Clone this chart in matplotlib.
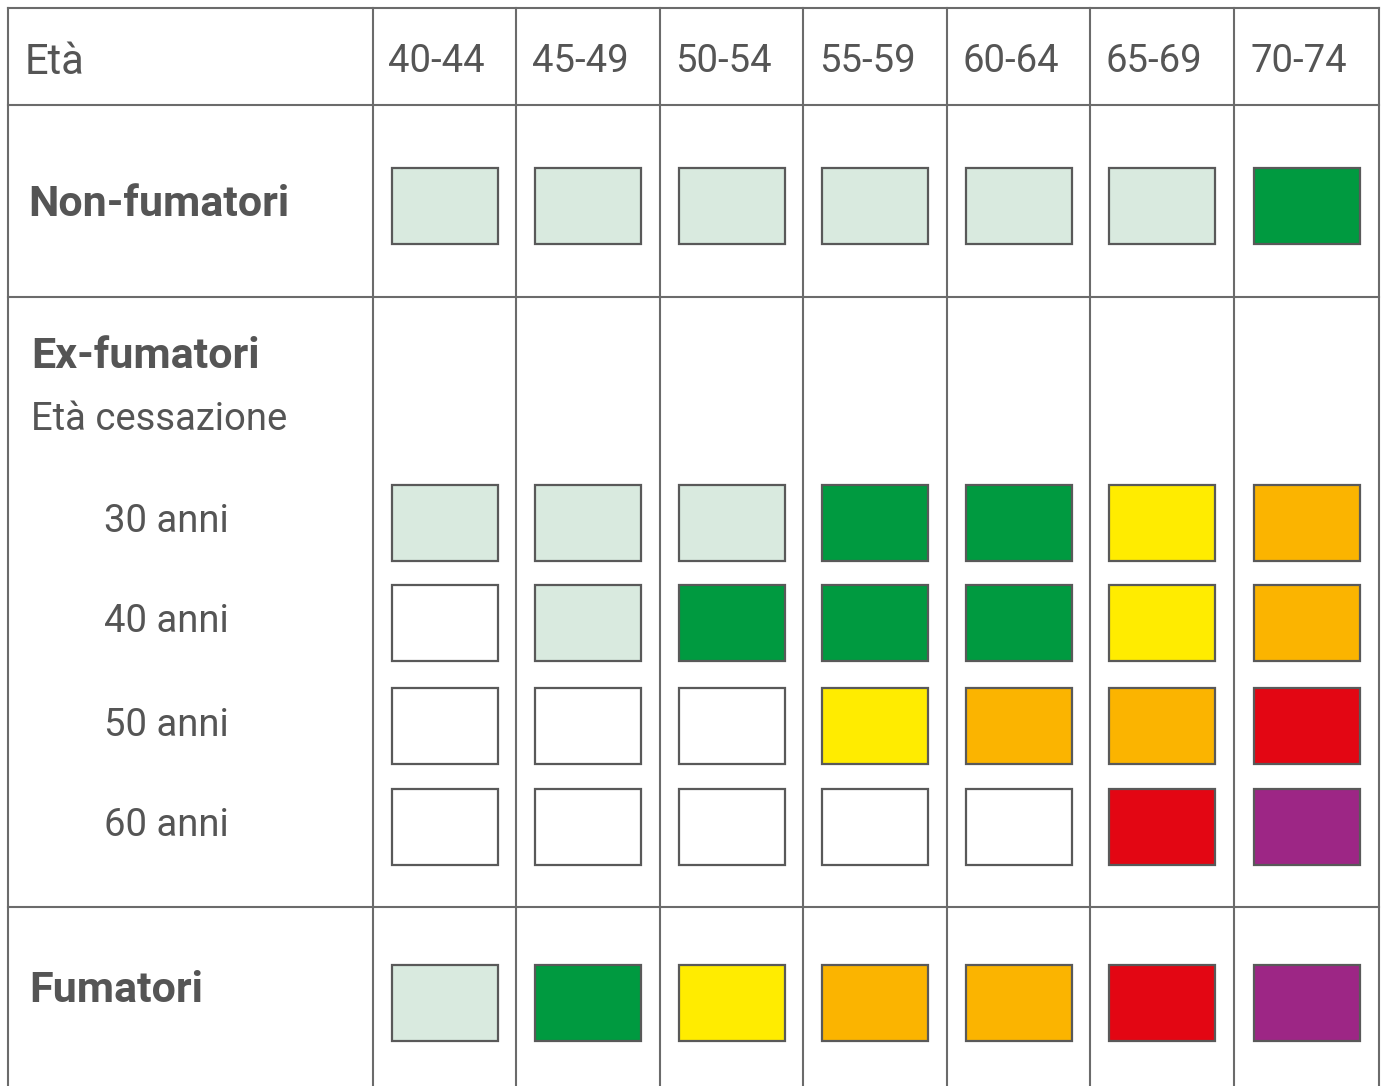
import matplotlib
matplotlib.use("Agg")
import matplotlib.pyplot as plt

# data
age_groups = ["40-44", "45-49", "50-54", "55-59", "60-64", "65-69", "70-74"]
row_labels = ["Non-fumatori", "30 anni", "40 anni", "50 anni", "60 anni", "Fumatori"]
# risk level per cell: 0 empty, 1 very low ... 6 very high
non_fumatori = [1, 1, 1, 1, 1, 1, 2]
ex_30 = [1, 1, 1, 2, 2, 3, 4]
ex_40 = [0, 1, 2, 2, 2, 3, 4]
ex_50 = [0, 0, 0, 3, 4, 4, 5]
ex_60 = [0, 0, 0, 0, 0, 5, 6]
fumatori = [1, 2, 3, 4, 4, 5, 6]
level_colors = ["#ffffff", "#d9eadf", "#009a40", "#ffec00", "#fbb400", "#e30613", "#9d2685"]

# layout (pixel units)
W, H = 1385, 1086
col_lines = [8, 373, 516, 660, 803, 947, 1090, 1234, 1379]
h_lines = [8, 105, 297, 907]
row_y = [206, 523, 623, 726, 827, 1003]
box_w, box_h = 106, 76
txt = "#555555"
grid_c = "#6b6b6b"
fam = ["Roboto", "DejaVu Sans"]

fig = plt.figure(figsize=(W / 100, H / 100), dpi=100)
ax = fig.add_axes([0, 0, 1, 1])
ax.set_xlim(0, W)
ax.set_ylim(H, 0)
ax.axis("off")

# grid
for x in col_lines:
    ax.plot([x, x], [h_lines[0], H], color=grid_c, lw=1.5)
for y in h_lines:
    ax.plot([col_lines[0], col_lines[-1]], [y, y], color=grid_c, lw=1.5)

# header
ax.text(25, 62, "Età", ha="left", va="center", fontsize=30, color=txt, family=fam)
for i, g in enumerate(age_groups):
    cx = (col_lines[i + 1] + col_lines[i + 2]) / 2 - 8
    ax.text(cx, 62, g, ha="center", va="center", fontsize=27.5, color=txt, family=fam)

# row labels
bold = dict(ha="left", va="center", fontsize=31, fontweight="bold", color=txt, family=fam)
reg = dict(ha="left", va="center", fontsize=27.5, color=txt, family=fam)
ax.text(28, 204, row_labels[0], **bold)
ax.text(31, 356, "Ex-fumatori", **bold)
ax.text(31, 420, "Età cessazione", **reg)
for lab, y in zip(row_labels[1:5], row_y[1:5]):
    ax.text(104, y - 1, lab, **reg)
ax.text(29, 990, row_labels[5], **bold)

# boxes
rows = [non_fumatori, ex_30, ex_40, ex_50, ex_60, fumatori]
centers = [(col_lines[i + 1] + col_lines[i + 2]) / 2 for i in range(len(age_groups))]
for levels, y in zip(rows, row_y):
    ax.bar(centers, [box_h] * len(levels), width=box_w, bottom=y - box_h / 2,
           color=[level_colors[v] for v in levels], edgecolor="#595959", linewidth=1.6)

fig.savefig("out.png", dpi=100, facecolor="white")
